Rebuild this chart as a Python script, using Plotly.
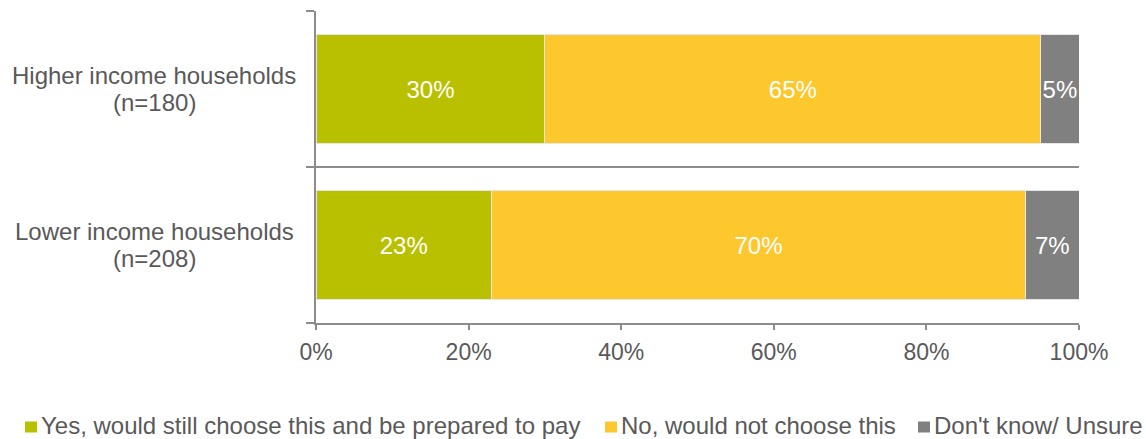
import plotly.graph_objects as go

# Survey groups (top to bottom), sample sizes and response shares
groups = ["Higher income households", "Lower income households"]
sample_sizes = [180, 208]
yes_pay = [0.30, 0.23]
no_choose = [0.65, 0.70]
unsure = [0.05, 0.07]

series_names = [
    "Yes, would still choose this and be prepared to pay",
    "No, would not choose this",
    "Don't know/ Unsure",
]
series_colors = ["#B9C000", "#FDC72E", "#808080"]
x_ticks = [0, 0.2, 0.4, 0.6, 0.8, 1.0]

FONT = "Liberation Sans, Arial, sans-serif"
TEXT_GREY = "#595959"
LINE_GREY = "#8C8C8C"

W, H = 1146, 439
M_L, M_R, M_T, M_B = 316, 67, 11, 116
PLOT_W = W - M_L - M_R
PLOT_H = H - M_T - M_B


def px_x(px):
    """Horizontal pixel position -> paper coordinate."""
    return (px - M_L) / PLOT_W


def px_y(py):
    """Vertical pixel position (from top) -> paper coordinate."""
    return (H - M_B - py) / PLOT_H


fig = go.Figure()
for name, vals, color in zip(series_names, [yes_pay, no_choose, unsure], series_colors):
    fig.add_trace(go.Bar(
        name=name,
        y=groups,
        x=vals,
        orientation="h",
        marker=dict(color=color, line=dict(color="#E6E6E6", width=1)),
        text=[f"{round(v * 100)}%" for v in vals],
        textposition="inside",
        insidetextanchor="middle",
        textangle=0,
        constraintext="none",
        textfont=dict(color="white", size=24, family=FONT),
        hoverinfo="skip",
        showlegend=False,
    ))

annotations = []
# Category labels: group name with sample size centred underneath
for g, n in zip(groups, sample_sizes):
    annotations.append(dict(
        x=px_x(154), xref="paper", y=g, yref="y",
        text=g, showarrow=False, xanchor="center", yanchor="middle",
        yshift=14, font=dict(size=24, color=TEXT_GREY, family=FONT),
    ))
    annotations.append(dict(
        x=px_x(154), xref="paper", y=g, yref="y",
        text=f"(n={n})", showarrow=False, xanchor="center", yanchor="middle",
        yshift=-13, font=dict(size=24, color=TEXT_GREY, family=FONT),
    ))

# Legend row along the bottom: coloured square followed by its label
legend_x = [25, 605, 918]
legend_y = 427
shapes = []
for name, color, lx in zip(series_names, series_colors, legend_x):
    shapes.append(dict(
        type="rect", xref="paper", yref="paper",
        x0=px_x(lx), x1=px_x(lx + 12),
        y0=px_y(legend_y - 5.5), y1=px_y(legend_y + 5.5),
        fillcolor=color, line=dict(width=0),
    ))
    annotations.append(dict(
        x=px_x(lx + 15), xref="paper", y=px_y(legend_y - 2), yref="paper",
        text=name, showarrow=False, xanchor="left", yanchor="middle",
        borderpad=0,
        font=dict(size=24, color=TEXT_GREY, family=FONT),
    ))

fig.update_layout(
    barmode="stack",
    bargap=0.295,
    width=W,
    height=H,
    margin=dict(l=M_L, r=M_R, t=M_T, b=M_B, autoexpand=False),
    paper_bgcolor="white",
    plot_bgcolor="white",
    font=dict(family=FONT, color=TEXT_GREY, size=23),
    uniformtext=dict(mode="show", minsize=20),
    showlegend=False,
    annotations=annotations,
    shapes=shapes,
    xaxis=dict(
        range=[0, 1],
        tickvals=x_ticks,
        tickformat=".0%",
        showgrid=False,
        zeroline=False,
        showline=True,
        linecolor=LINE_GREY,
        linewidth=2,
        ticks="outside",
        ticklen=5,
        tickwidth=2,
        tickcolor=LINE_GREY,
        ticklabelstandoff=2,
        tickfont=dict(size=23, color=TEXT_GREY),
    ),
    yaxis=dict(
        type="category",
        categoryorder="array",
        categoryarray=groups[::-1],
        tickson="boundaries",
        showgrid=True,
        gridcolor=LINE_GREY,
        gridwidth=2,
        showline=True,
        linecolor=LINE_GREY,
        linewidth=2,
        ticks="outside",
        ticklen=8,
        tickwidth=2,
        tickcolor=LINE_GREY,
        showticklabels=False,
    ),
)

fig.write_html("out.html")
